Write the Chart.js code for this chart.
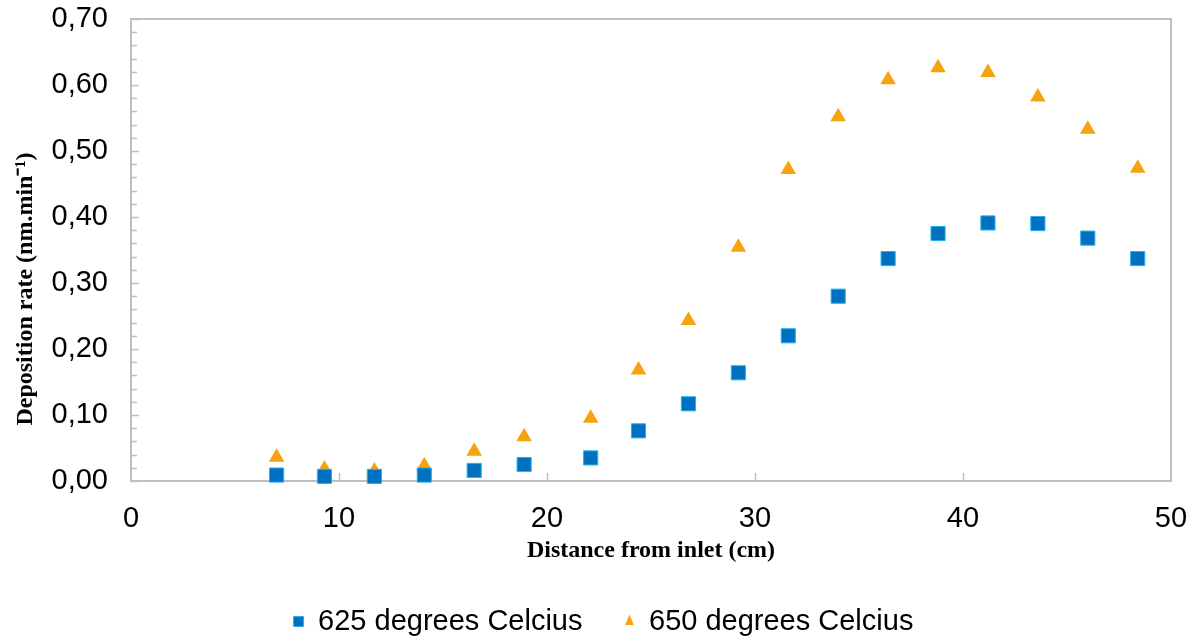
<!DOCTYPE html>
<html>
<head>
<meta charset="utf-8">
<script src="https://cdn.jsdelivr.net/npm/chart.js@4.4.1/dist/chart.umd.min.js"></script>
<style>
  html, body { margin: 0; padding: 0; background: #fff; overflow: hidden; }
  #wrap { width: 1199px; height: 641px; }
</style>
</head>
<body>
<div id="wrap"><canvas id="chart"></canvas></div>
<script>
// data
const distance = [7.0, 9.3, 11.7, 14.1, 16.5, 18.9, 22.1, 24.4, 26.8, 29.2, 31.6, 34.0, 36.4, 38.8, 41.2, 43.6, 46.0, 48.4];
const rate625 = [0.009, 0.007, 0.007, 0.009, 0.016, 0.025, 0.035, 0.076, 0.117, 0.164, 0.220, 0.280, 0.337, 0.375, 0.391, 0.390, 0.368, 0.337];
const rate650 = [0.036, 0.018, 0.015, 0.023, 0.045, 0.067, 0.095, 0.168, 0.243, 0.354, 0.472, 0.552, 0.608, 0.626, 0.619, 0.582, 0.533, 0.474];
const seriesNames = ['625 degrees Celcius', '650 degrees Celcius'];

const axisGrey = '#bfbfbf';
const sansFont = 'Arial, "Liberation Sans", sans-serif';
const serifFont = '"Times New Roman", "Liberation Serif", serif';

function toPoints(ys) {
    return ys.map((y, i) => ({ x: distance[i], y: y }));
}

// frame round the plot area plus the small inward tick marks
const frameTicks = {
    id: 'frameTicks',
    afterLayout(chart) {
        // legend sits a bit right of the canvas middle in the original
        if (chart.legend) {
            chart.legend.left += 18;
            chart.legend.right += 18;
        }
    },
    beforeDatasetsDraw(chart) {
        const { ctx, chartArea: a, scales } = chart;
        ctx.save();
        ctx.strokeStyle = axisGrey;
        ctx.lineWidth = 2;
        ctx.strokeRect(a.left, a.top, a.right - a.left, a.bottom - a.top);

        ctx.lineWidth = 1.5;
        ctx.beginPath();
        for (let v = 0; v <= 0.7001; v += 0.02) {
            const y = Math.round(scales.y.getPixelForValue(v)) + 0.5;
            const major = Math.abs(v * 10 - Math.round(v * 10)) < 1e-6;
            ctx.moveTo(a.left, y);
            ctx.lineTo(a.left + (major ? 8 : 6), y);
        }
        for (let v = 10; v < 50; v += 10) {
            const x = Math.round(scales.x.getPixelForValue(v)) + 0.5;
            ctx.moveTo(x, a.bottom);
            ctx.lineTo(x, a.bottom - 8);
        }
        ctx.stroke();
        ctx.restore();
    }
};

const ctx = document.getElementById('chart').getContext('2d');
new Chart(ctx, {
    type: 'scatter',
    data: {
        datasets: [
            {
                label: seriesNames[0],
                data: toPoints(rate625),
                pointStyle: 'rect',
                pointRadius: 10,
                pointHoverRadius: 10,
                backgroundColor: '#0070c0',
                borderColor: '#1fb5ef',
                borderWidth: 1,
                clip: false
            },
            {
                label: seriesNames[1],
                data: toPoints(rate650),
                pointStyle: 'triangle',
                pointRadius: 9,
                pointHoverRadius: 9,
                backgroundColor: '#f7a30f',
                borderColor: '#f7a30f',
                borderWidth: 0,
                clip: false
            }
        ]
    },
    options: {
        responsive: true,
        maintainAspectRatio: false,
        animation: false,
        layout: { padding: { top: 19, right: 28, left: 0, bottom: -5 } },
        scales: {
            x: {
                type: 'linear',
                min: 0,
                max: 50,
                grid: { display: false, drawTicks: false },
                border: { display: false },
                afterFit(scale) {
                    scale.height = 84;
                    scale.paddingLeft = 0;
                    scale.paddingRight = 0;
                },
                ticks: {
                    stepSize: 10,
                    padding: 21,
                    color: '#000',
                    font: { family: sansFont, size: 29 }
                },
                title: {
                    display: true,
                    text: 'Distance from inlet (cm)',
                    color: '#000',
                    padding: { top: 0, bottom: 0 },
                    font: { family: serifFont, size: 24, weight: 'bold' }
                }
            },
            y: {
                min: 0,
                max: 0.7,
                grid: { display: false, drawTicks: false },
                border: { display: false },
                afterFit(scale) {
                    scale.width = 131;
                    scale.paddingTop = 0;
                    scale.paddingBottom = 0;
                },
                ticks: {
                    stepSize: 0.1,
                    padding: 23,
                    color: '#000',
                    font: { family: sansFont, size: 29 },
                    callback: (v) => v.toFixed(2).replace('.', ',')
                },
                title: {
                    display: true,
                    // trailing spaces push the title a little below the axis middle, as in the original
                    text: 'Deposition rate (nm.min\u207B\u00B9)' + '\u00A0'.repeat(13),
                    color: '#000',
                    padding: { top: 11, bottom: 0 },
                    font: { family: serifFont, size: 24, weight: 'bold' }
                }
            }
        },
        plugins: {
            legend: {
                position: 'bottom',
                labels: {
                    usePointStyle: true,
                    pointStyleWidth: 10,
                    boxHeight: 10,
                    padding: 42,
                    color: '#000',
                    font: { family: sansFont, size: 29 }
                }
            },
            tooltip: { enabled: false }
        }
    },
    plugins: [frameTicks]
});
</script>
</body>
</html>
